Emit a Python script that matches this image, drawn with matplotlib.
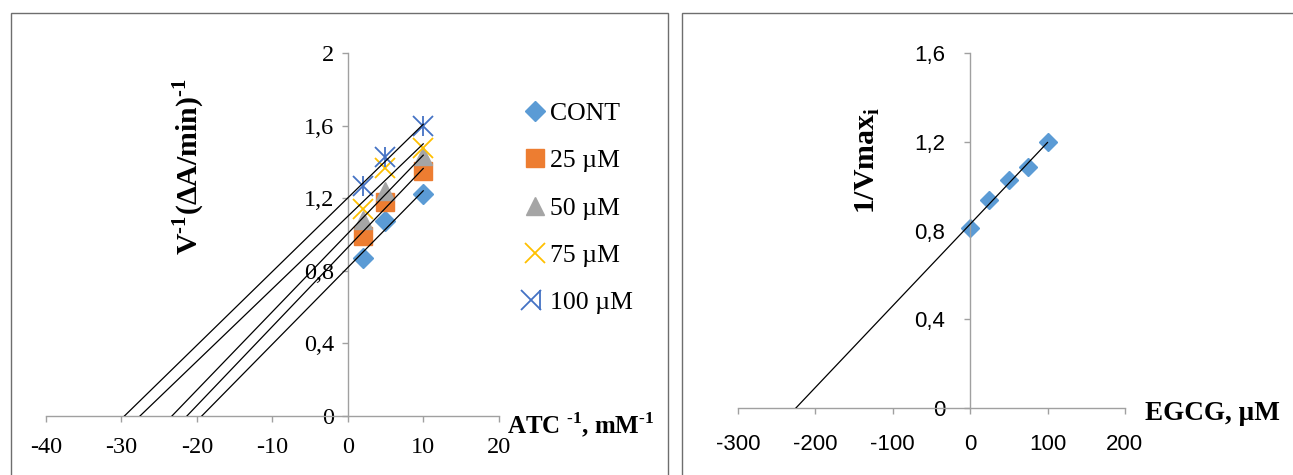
import numpy as np
import matplotlib.pyplot as plt
from matplotlib.patches import Rectangle
from matplotlib.legend_handler import HandlerTuple

plt.rcParams['font.family'] = 'Liberation Serif'
plt.rcParams['mathtext.fontset'] = 'custom'
plt.rcParams['mathtext.rm'] = 'Liberation Serif'
plt.rcParams['mathtext.bf'] = 'Liberation Serif:bold'

# --- left panel data (Lineweaver-Burk) ---
atc_inv = [2, 5, 10]
v_cont = [0.873, 1.076, 1.223]
v_25 = [0.994, 1.18, 1.351]
v_50 = [1.08, 1.24, 1.43]
v_75 = [1.139, 1.365, 1.475]
v_100 = [1.267, 1.429, 1.598]
series_labels = ['CONT', '25 µM', '50 µM', '75 µM', '100 µM']
left_xticks = [-40, -30, -20, -10, 0, 10, 20]
left_yticks = [0, 0.4, 0.8, 1.2, 1.6, 2]
left_yticklabels = ['0', '0,4', '0,8', '1,2', '1,6', '2']

# --- right panel data (secondary plot) ---
egcg = [0, 25, 50, 75, 100]
inv_vmax = [0.813, 0.938, 1.029, 1.089, 1.198]
right_xticks = [-300, -200, -100, 0, 100, 200]
right_yticks = [0, 0.4, 0.8, 1.2, 1.6]
right_yticklabels = ['0', '0,4', '0,8', '1,2', '1,6']

W, H = 1293, 475
fig = plt.figure(figsize=(W / 100, H / 100), dpi=100)
HY = '\u2010'  # hyphen used in the superscripts

def px_axes(x0, x1, ytop, ybot):
    return fig.add_axes([x0 / W, 1 - ybot / H, (x1 - x0) / W, (ybot - ytop) / H])

def excel_style(ax, tick_font, tick_size, xpad, ypad):
    for s in ['top', 'right']:
        ax.spines[s].set_visible(False)
    ax.spines['left'].set_position(('data', 0))
    ax.spines['bottom'].set_position(('data', 0))
    for s in ['left', 'bottom']:
        ax.spines[s].set_color('#a0a0a0')
        ax.spines[s].set_linewidth(1.0)
    ax.tick_params(direction='out', length=4, width=1.0, color='#a0a0a0',
                   labelsize=tick_size)
    ax.tick_params(axis='x', pad=xpad)
    ax.tick_params(axis='y', pad=ypad)
    for lab in ax.get_xticklabels() + ax.get_yticklabels():
        lab.set_family(tick_font)
    ax.patch.set_alpha(0)

def trend(ax, x, y, xend):
    k, b = np.polyfit(x, y, 1)
    x0 = -b / k
    ax.plot([x0, xend], [0, k * xend + b], color='black', lw=0.9, zorder=5)

# ---------- left panel ----------
ax1 = px_axes(45.8, 498.7, 53, 416)
ax1.set_xlim(-40, 20)
ax1.set_ylim(0, 2)
ax1.set_xticks(left_xticks)
ax1.set_xticklabels([str(t) for t in left_xticks])
ax1.set_yticks(left_yticks)
ax1.set_yticklabels(left_yticklabels)

h_cont, = ax1.plot(atc_inv, v_cont, 'D', color='#5b9bd5', ms=10, ls='none')
h_25, = ax1.plot(atc_inv, v_25, 's', color='#ed7d31', ms=13.5, ls='none')
h_50, = ax1.plot(atc_inv, v_50, '^', color='#a5a5a5', ms=13, ls='none')
h_75, = ax1.plot(atc_inv, v_75, 'x', color='#ffc000', ms=14, mew=1.3, ls='none')
h_100a, = ax1.plot(atc_inv, v_100, 'x', color='#4472c4', ms=14, mew=1.3, ls='none')
h_100b, = ax1.plot(atc_inv, v_100, '|', color='#4472c4', ms=15, mew=1.3, ls='none')

for ys in [v_cont, v_25, v_50, v_75, v_100]:
    trend(ax1, atc_inv, ys, 10)

excel_style(ax1, 'Liberation Serif', 17.5, 11, 6)

leg = fig.legend([h_cont, h_25, h_50, h_75, (h_100a, h_100b)], series_labels,
                 handler_map={tuple: HandlerTuple(ndivide=None, pad=0)},
                 loc='upper left', bbox_to_anchor=(513 / W, 1 - 89 / H),
                 frameon=False, fontsize=18.5, handlelength=0.75,
                 handletextpad=0.2, labelspacing=0.95, borderpad=0)

fig.text(189 / W, 1 - 167 / H,
         r'V$^{\mathbf{' + HY + r'1}}$(ΔA/min)$^{\mathbf{' + HY + r'1}}$',
         rotation=90, ha='center', va='center', fontsize=21.5, fontweight='bold')
fig.text(507 / W, 1 - 425 / H,
         r'ATC $^{\mathbf{' + HY + r'1}}$, mM$^{\mathbf{' + HY + r'1}}$',
         ha='left', va='center', fontsize=18, fontweight='bold')

# ---------- right panel ----------
ax2 = px_axes(737.9, 1124.9, 53.3, 408)
ax2.set_xlim(-300, 200)
ax2.set_ylim(0, 1.6)
ax2.set_xticks(right_xticks)
ax2.set_xticklabels([str(t) for t in right_xticks])
ax2.set_yticks(right_yticks)
ax2.set_yticklabels(right_yticklabels)
ax2.plot(egcg, inv_vmax, 'D', color='#5b9bd5', ms=9, ls='none')
trend(ax2, egcg, inv_vmax, 100)
excel_style(ax2, 'Liberation Sans', 16, 15, 14)

fig.text(867.6 / W, 1 - 160 / H, r'1/Vmax$_{\mathbf{i}}$',
         rotation=90, ha='center', va='center', fontsize=21.5, fontweight='bold')
fig.text(1145 / W, 1 - 413 / H, 'EGCG, µM',
         ha='left', va='center', fontsize=19.5, fontweight='bold')

# panel frames
fig.patches.append(Rectangle((10.8 / W, -0.01), (668 - 10.8) / W, 1 - 13 / H + 0.01,
                             transform=fig.transFigure, fill=False,
                             edgecolor='#6e6e6e', lw=1.0))
fig.patches.append(Rectangle((682 / W, -0.01), 1.0, 1 - 13 / H + 0.01,
                             transform=fig.transFigure, fill=False,
                             edgecolor='#6e6e6e', lw=1.0))

fig.savefig('out.png', dpi=100)
